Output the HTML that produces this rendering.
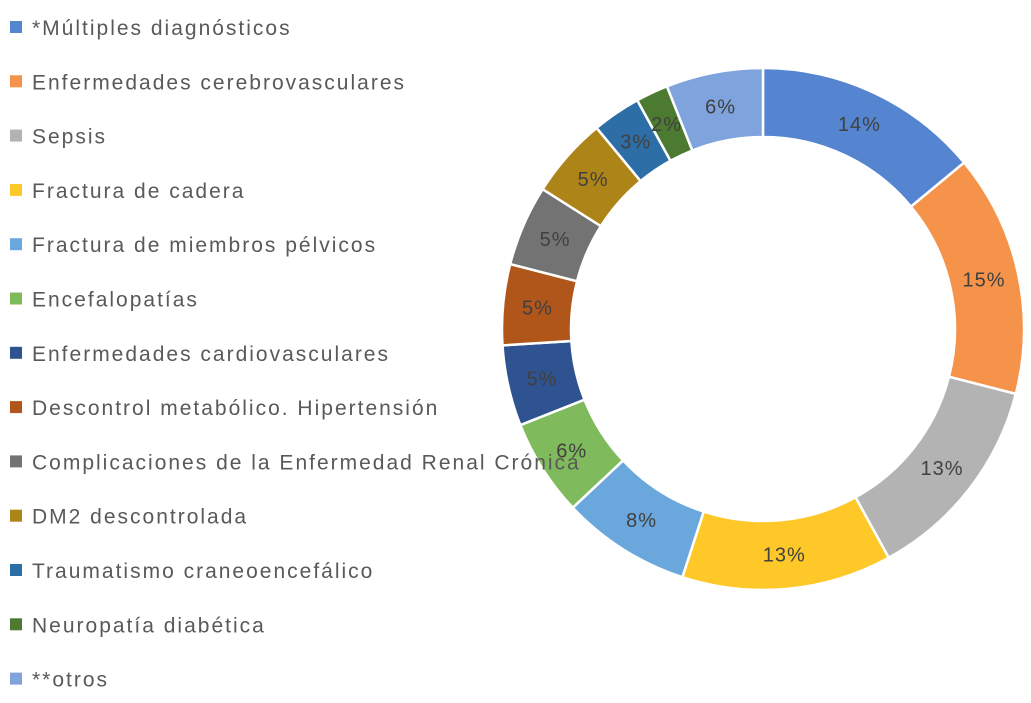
<!DOCTYPE html>
<html><head><meta charset="utf-8"><style>
body{margin:0;background:#fff;width:1031px;height:698px;overflow:hidden;font-family:"Liberation Sans",sans-serif}
</style></head><body>
<svg id="c" width="1031" height="698"></svg>
<script>
const categories=["*Múltiples diagnósticos","Enfermedades cerebrovasculares","Sepsis","Fractura de cadera","Fractura de miembros pélvicos","Encefalopatías","Enfermedades cardiovasculares","Descontrol metabólico. Hipertensión","Complicaciones de la Enfermedad Renal Crónica","DM2 descontrolada","Traumatismo craneoencefálico","Neuropatía diabética","**otros"];
const values=[14,15,13,13,8,6,5,5,5,5,3,2,6];
const labels=["14%","15%","13%","13%","8%","6%","5%","5%","5%","5%","3%","2%","6%"];
const colors=["#5584d0","#f5934a","#b3b3b3","#ffc829","#6aa7dd","#7fbb5c","#2f5390","#b0561b","#737373","#ad8418","#2d6ea6","#4b7a30","#7fa3dd"];
const svg=document.getElementById('c');const NS="http://www.w3.org/2000/svg";
const cx=763,cy=329,R=261,r=192;
const total=values.reduce((a,b)=>a+b,0);
let a0=0;
function pt(rad,a){return [cx+rad*Math.sin(a),cy-rad*Math.cos(a)];}
values.forEach((v,i)=>{
 const a1=a0+v/total*2*Math.PI;
 const [x1,y1]=pt(R,a0),[x2,y2]=pt(R,a1),[x3,y3]=pt(r,a1),[x4,y4]=pt(r,a0);
 const lg=(a1-a0)>Math.PI?1:0;
 const p=document.createElementNS(NS,'path');
 p.setAttribute('d',`M${x1},${y1}A${R},${R} 0 ${lg} 1 ${x2},${y2}L${x3},${y3}A${r},${r} 0 ${lg} 0 ${x4},${y4}Z`);
 p.setAttribute('fill',colors[i]);p.setAttribute('stroke','#fff');p.setAttribute('stroke-width','2.5');
 
 
 svg.appendChild(p);
 const am=(a0+a1)/2;const [lx,ly]=pt((R+r)/2,am);
 const t=document.createElementNS(NS,'text');
 t.setAttribute('x',lx);t.setAttribute('y',ly+7);t.setAttribute('text-anchor','middle');
 t.setAttribute('font-size','20');t.setAttribute('letter-spacing','1');t.setAttribute('fill','#404040');t.textContent=labels[i];
 
 
 svg.appendChild(t);
 a0=a1;
});
categories.forEach((c,i)=>{
 const y=27+i*54.3;
 const s=document.createElementNS(NS,'rect');
 s.setAttribute('x',10);s.setAttribute('y',y-6);s.setAttribute('width',12);s.setAttribute('height',12);s.setAttribute('fill',colors[i]);
 
 
 svg.appendChild(s);
 const t=document.createElementNS(NS,'text');
 t.setAttribute('x',32);t.setAttribute('y',y+8);t.setAttribute('font-size','21');t.setAttribute('letter-spacing','2');t.setAttribute('fill','#595959');t.textContent=c;
 
 
 svg.appendChild(t);
});
</script>
</body></html>
